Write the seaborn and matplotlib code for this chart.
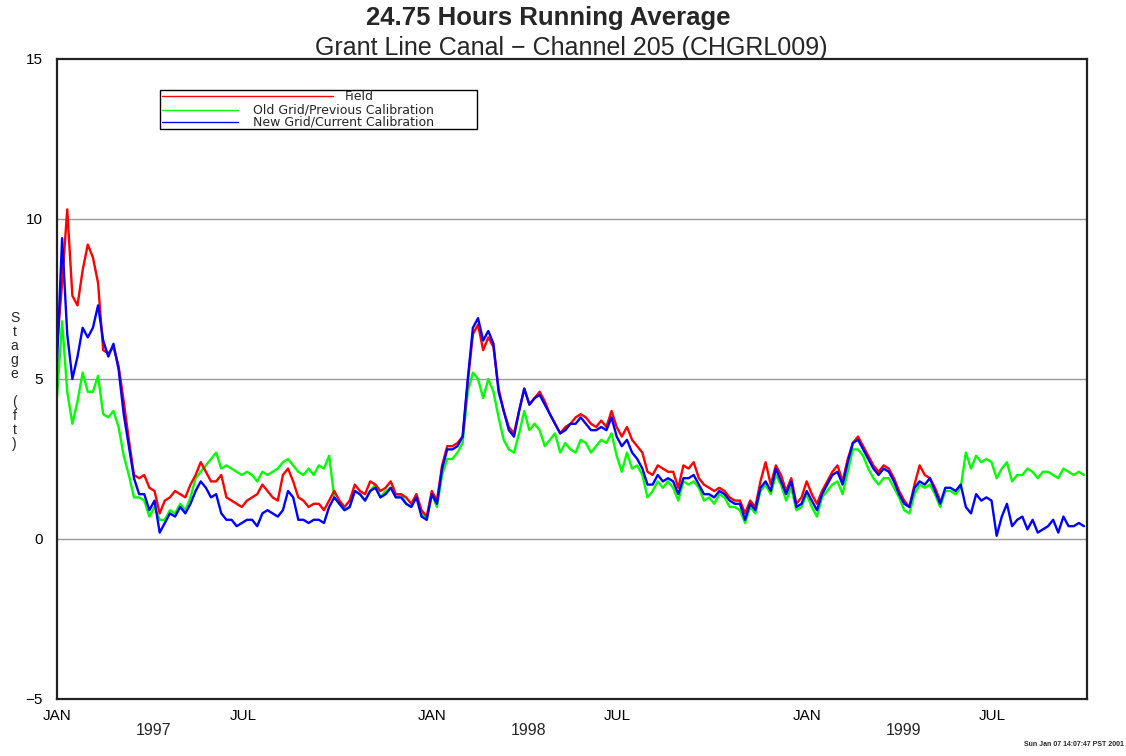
import numpy as np
import pandas as pd
import matplotlib
matplotlib.use("Agg")
import matplotlib.pyplot as plt
import matplotlib.dates as mdates
import matplotlib.transforms as mtransforms
from matplotlib.lines import Line2D
from matplotlib.patches import Rectangle
import seaborn as sns

# one reading every 5 days from 1 Jan 1997
start = "1997-01-01"
step = "5D"

field = [
    6.0, 8.0, 10.3, 7.6, 7.3, 8.4, 9.2, 8.8, 8.0, 5.9,
    5.8, 6.0, 5.4, 4.3, 3.1, 2.0, 1.9, 2.0, 1.6, 1.5,
    0.8, 1.2, 1.3, 1.5, 1.4, 1.3, 1.7, 2.0, 2.4, 2.1,
    1.8, 1.8, 2.0, 1.3, 1.2, 1.1, 1.0, 1.2, 1.3, 1.4,
    1.7, 1.5, 1.3, 1.2, 2.0, 2.2, 1.8, 1.3, 1.2, 1.0,
    1.1, 1.1, 0.9, 1.2, 1.5, 1.2, 1.0, 1.2, 1.7, 1.5,
    1.4, 1.8, 1.7, 1.5, 1.6, 1.8, 1.4, 1.4, 1.3, 1.1,
    1.4, 0.9, 0.7, 1.5, 1.2, 2.3, 2.9, 2.9, 3.0, 3.2,
    4.9, 6.4, 6.7, 5.9, 6.3, 6.0, 4.7, 4.0, 3.5, 3.3,
    4.0, 4.7, 4.2, 4.4, 4.6, 4.3, 3.9, 3.6, 3.3, 3.5,
    3.6, 3.8, 3.9, 3.8, 3.6, 3.5, 3.7, 3.5, 4.0, 3.5,
    3.2, 3.5, 3.1, 2.9, 2.7, 2.1, 2.0, 2.3, 2.2, 2.1,
    2.1, 1.6, 2.3, 2.2, 2.4, 1.9, 1.7, 1.6, 1.5, 1.6,
    1.5, 1.3, 1.2, 1.2, 0.8, 1.2, 1.0, 1.8, 2.4, 1.7,
    2.3, 2.0, 1.5, 1.9, 1.1, 1.3, 1.8, 1.4, 1.1, 1.5,
    1.8, 2.1, 2.3, 1.8, 2.5, 3.0, 3.2, 2.9, 2.6, 2.3,
    2.1, 2.3, 2.2, 1.9, 1.5, 1.2, 1.0, 1.7, 2.3, 2.0,
    1.9, 1.6, 1.2,
]

old_grid = [
    4.4, 6.8, 4.6, 3.6, 4.3, 5.2, 4.6, 4.6, 5.1, 3.9,
    3.8, 4.0, 3.5, 2.6, 2.0, 1.3, 1.3, 1.2, 0.7, 1.0,
    0.6, 0.6, 0.9, 0.8, 1.1, 0.9, 1.3, 1.9, 2.1, 2.3,
    2.5, 2.7, 2.2, 2.3, 2.2, 2.1, 2.0, 2.1, 2.0, 1.8,
    2.1, 2.0, 2.1, 2.2, 2.4, 2.5, 2.3, 2.1, 2.0, 2.2,
    2.0, 2.3, 2.2, 2.6, 1.3, 1.1, 0.9, 1.0, 1.5, 1.4,
    1.2, 1.5, 1.7, 1.3, 1.5, 1.6, 1.3, 1.4, 1.1, 1.0,
    1.4, 0.8, 0.6, 1.4, 1.0, 2.0, 2.5, 2.5, 2.7, 3.0,
    4.6, 5.2, 5.0, 4.4, 5.0, 4.6, 3.8, 3.1, 2.8, 2.7,
    3.3, 4.0, 3.4, 3.6, 3.4, 2.9, 3.1, 3.3, 2.7, 3.0,
    2.8, 2.7, 3.1, 3.0, 2.7, 2.9, 3.1, 3.0, 3.3, 2.6,
    2.1, 2.7, 2.2, 2.3, 2.0, 1.3, 1.5, 1.8, 1.6, 1.8,
    1.6, 1.2, 1.8, 1.7, 1.8, 1.6, 1.2, 1.3, 1.1, 1.4,
    1.3, 1.0, 1.0, 0.9, 0.5, 1.0, 0.8, 1.5, 1.7, 1.4,
    2.0, 1.7, 1.2, 1.6, 0.9, 1.0, 1.4, 1.0, 0.7, 1.3,
    1.5, 1.7, 1.8, 1.4, 2.1, 2.8, 2.8, 2.6, 2.2, 1.9,
    1.7, 1.9, 1.9, 1.6, 1.3, 0.9, 0.8, 1.4, 1.7, 1.6,
    1.7, 1.4, 1.0, 1.5, 1.5, 1.4, 1.6, 2.7, 2.2, 2.6,
    2.4, 2.5, 2.4, 1.9, 2.2, 2.4, 1.8, 2.0, 2.0, 2.2,
    2.1, 1.9, 2.1, 2.1, 2.0, 1.9, 2.2, 2.1, 2.0, 2.1,
    2.0,
]

new_grid = [
    5.5, 9.4, 6.4, 5.0, 5.7, 6.6, 6.3, 6.6, 7.3, 6.2,
    5.7, 6.1, 5.3, 3.9, 2.9, 1.9, 1.4, 1.4, 0.9, 1.2,
    0.2, 0.5, 0.8, 0.7, 1.0, 0.8, 1.1, 1.5, 1.8, 1.6,
    1.3, 1.4, 0.8, 0.6, 0.6, 0.4, 0.5, 0.6, 0.6, 0.4,
    0.8, 0.9, 0.8, 0.7, 0.9, 1.5, 1.3, 0.6, 0.6, 0.5,
    0.6, 0.6, 0.5, 1.0, 1.3, 1.1, 0.9, 1.0, 1.5, 1.4,
    1.2, 1.5, 1.6, 1.3, 1.4, 1.6, 1.3, 1.3, 1.1, 1.0,
    1.3, 0.7, 0.6, 1.4, 1.1, 2.2, 2.8, 2.8, 2.9, 3.2,
    5.0, 6.6, 6.9, 6.2, 6.5, 6.1, 4.6, 4.0, 3.4, 3.2,
    4.0, 4.7, 4.2, 4.4, 4.5, 4.2, 3.9, 3.6, 3.3, 3.4,
    3.6, 3.6, 3.8, 3.6, 3.4, 3.4, 3.5, 3.4, 3.8, 3.2,
    2.9, 3.1, 2.7, 2.5, 2.2, 1.7, 1.7, 2.0, 1.8, 1.9,
    1.8, 1.4, 1.9, 1.9, 2.0, 1.7, 1.4, 1.4, 1.3, 1.5,
    1.4, 1.2, 1.1, 1.1, 0.6, 1.1, 0.9, 1.6, 1.8, 1.5,
    2.2, 1.8, 1.4, 1.8, 1.0, 1.1, 1.5, 1.2, 0.9, 1.4,
    1.7, 2.0, 2.1, 1.7, 2.4, 3.0, 3.1, 2.8, 2.5, 2.2,
    2.0, 2.2, 2.1, 1.8, 1.4, 1.1, 1.0, 1.6, 1.8, 1.7,
    1.9, 1.5, 1.1, 1.6, 1.6, 1.5, 1.7, 1.0, 0.8, 1.4,
    1.2, 1.3, 1.2, 0.1, 0.7, 1.1, 0.4, 0.6, 0.7, 0.3,
    0.6, 0.2, 0.3, 0.4, 0.6, 0.2, 0.7, 0.4, 0.4, 0.5,
    0.4,
]

dates = pd.date_range(start, periods=len(new_grid), freq=step)

series = [
    ("Old Grid/Previous Calibration", old_grid, "#00ff00"),
    ("Field", field, "#ff0000"),
    ("New Grid/Current Calibration", new_grid, "#0000ff"),
]

sns.set_style("white")
plt.rcParams["font.family"] = ["Liberation Sans", "DejaVu Sans"]

fig = plt.figure(figsize=(11.26, 7.56), dpi=100)
ax = fig.add_axes([0.0506, 0.0754, 0.9148, 0.8466])

for name, vals, col in series:
    df = pd.DataFrame({"date": dates[:len(vals)], "stage": vals})
    sns.lineplot(data=df, x="date", y="stage", color=col, lw=1.7, ax=ax)

ax.set_xlim(pd.Timestamp("1997-01-01"), pd.Timestamp("1999-10-01"))
ax.set_ylim(-5, 15)
ax.set_xlabel("")
ax.set_ylabel("")

ax.set_yticks([-5, 0, 5, 10, 15])
ax.set_yticks(np.arange(-5, 16, 1), minor=True)
ax.xaxis.set_major_locator(mdates.MonthLocator(bymonth=[1, 7]))
ax.xaxis.set_minor_locator(mdates.MonthLocator())
ax.xaxis.set_major_formatter(mdates.DateFormatter("%b"))
fig.canvas.draw()
ax.set_xticklabels([t.get_text().upper() for t in ax.get_xticklabels()])

ax.tick_params(axis="both", which="both", direction="in", colors="#222222",
               labelsize=11, labelcolor="black")
ax.tick_params(axis="x", which="major", length=6, width=1, pad=7)
ax.tick_params(axis="x", which="minor", length=3, width=1)
ax.tick_params(axis="y", which="major", length=0, pad=10)
ax.tick_params(axis="y", which="minor", length=3, width=1)

for y in [0, 5, 10]:
    ax.axhline(y, color="#9a9a9a", lw=1, zorder=0)

for s in ax.spines.values():
    s.set_color("#222222")
    s.set_linewidth(1.6)

trans = mtransforms.blended_transform_factory(ax.transData, ax.transAxes)
for yr in ["1997", "1998", "1999"]:
    ax.text(pd.Timestamp(yr + "-04-05"), -0.05, yr, transform=trans,
            ha="center", va="center", fontsize=11.5)

# legend box drawn by hand, like the original plot
lg = ax.transAxes
leg_font = ["DejaVu Sans"]
ax.add_patch(Rectangle((0.100, 0.890), 0.308, 0.061, transform=lg,
                       fill=False, edgecolor="black", lw=1, zorder=5))
ax.add_line(Line2D([0.102, 0.268], [0.942, 0.942], transform=lg, color="#ff0000", lw=1, zorder=5))
ax.add_line(Line2D([0.102, 0.176], [0.921, 0.921], transform=lg, color="#00ff00", lw=1, zorder=5))
ax.add_line(Line2D([0.102, 0.176], [0.901, 0.901], transform=lg, color="#0000ff", lw=1, zorder=5))
ax.text(0.279, 0.941, "Field", transform=lg, fontsize=9, va="center", zorder=5, family=leg_font)
ax.text(0.190, 0.921, "Old Grid/Previous Calibration", transform=lg, fontsize=9, va="center", zorder=5, family=leg_font)
ax.text(0.190, 0.901, "New Grid/Current Calibration", transform=lg, fontsize=9, va="center", zorder=5, family=leg_font)

fig.text(0.487, 0.976, "24.75 Hours Running Average", ha="center", va="center",
         fontsize=18.5, fontweight="bold")
fig.text(0.507, 0.937, "Grant Line Canal \u2212 Channel 205 (CHGRL009)", ha="center",
         va="center", fontsize=18)
fig.text(0.013, 0.496, "\n".join("Stage (ft)"), ha="center", va="center",
         fontsize=10, linespacing=1.0)
fig.text(0.998, 0.010, "Sun Jan 07 14:07:47 PST 2001", ha="right", va="bottom",
         fontsize=5, fontweight="bold")

fig.savefig("out.png", dpi=100)
